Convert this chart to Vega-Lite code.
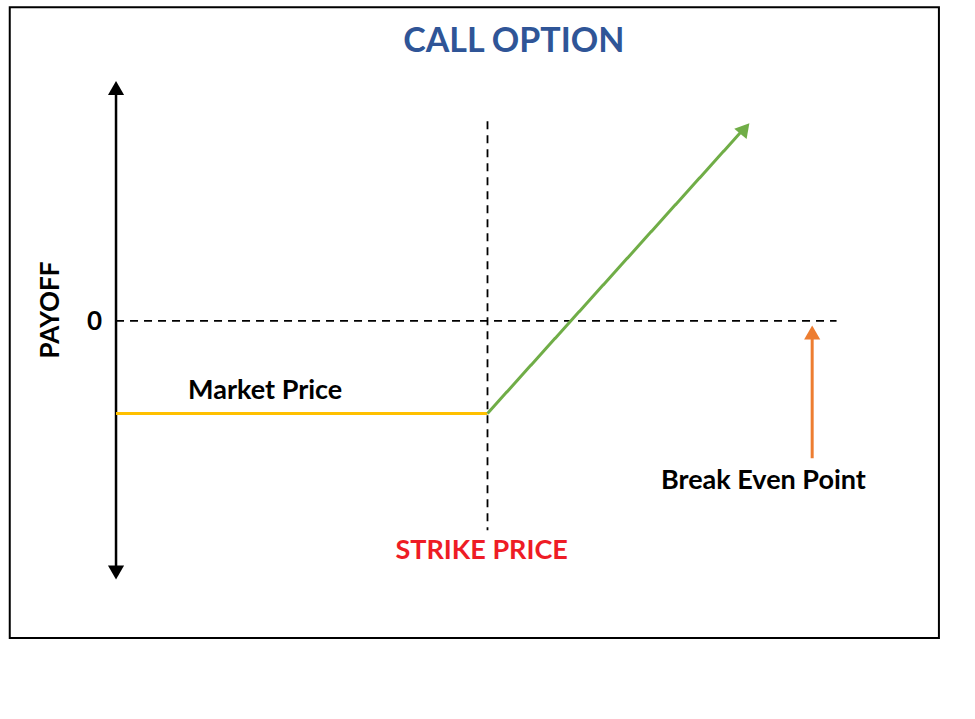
{
  "$schema": "https://vega.github.io/schema/vega-lite/v6.json",
  "width": 975,
  "height": 719,
  "autosize": {"type": "none"},
  "padding": 0,
  "background": "white",
  "view": {"stroke": null},
  "config": {"text": {"font": "Lato", "fontWeight": "bold"}},
  "datasets": {
    "border": [
      {"x": 10, "y": 8, "x2": 963, "y2": 710}
    ],
    "segments": [
      {"id": "payoff", "x": 119, "y": 98, "x2": 119, "y2": 637, "color": "black", "dash": "solid", "w": 2.5},
      {"id": "zero", "x": 119, "y": 357, "x2": 858, "y2": 357, "color": "black", "dash": "dashed", "w": 1.8},
      {"id": "strike", "x": 500, "y": 135, "x2": 500, "y2": 590, "color": "black", "dash": "dashed", "w": 1.8},
      {"id": "market", "x": 119, "y": 460, "x2": 500, "y2": 460, "color": "#FFC000", "dash": "solid", "w": 3},
      {"id": "call", "x": 500, "y": 460, "x2": 764, "y2": 142, "color": "#70AD47", "dash": "solid", "w": 3},
      {"id": "breakeven", "x": 833, "y": 510, "x2": 833, "y2": 372, "color": "#ED7D31", "dash": "solid", "w": 3}
    ],
    "heads": [
      {"x": 119, "y": 98, "angle": 0, "color": "black"},
      {"x": 119, "y": 637, "angle": 180, "color": "black"},
      {"x": 764, "y": 143, "angle": 40, "color": "#70AD47"},
      {"x": 833, "y": 370, "angle": 0, "color": "#ED7D31"}
    ],
    "labels": [
      {"text": "CALL OPTION", "x": 527, "y": 47, "color": "#2F5597", "size": 34, "angle": 0},
      {"text": "PAYOFF", "x": 52, "y": 345, "color": "black", "size": 26, "angle": 270},
      {"text": "0", "x": 97, "y": 358, "color": "black", "size": 26, "angle": 0},
      {"text": "Market Price", "x": 272, "y": 435, "color": "black", "size": 27, "angle": 0},
      {"text": "Break Even Point", "x": 783, "y": 535, "color": "black", "size": 27, "angle": 0},
      {"text": "STRIKE PRICE", "x": 494, "y": 613, "color": "#EE1C25", "size": 27, "angle": 0}
    ]
  },
  "layer": [
    {
      "data": {"name": "border"},
      "mark": {"type": "rect", "fill": null, "stroke": "black", "strokeWidth": 2},
      "encoding": {
        "x": {"field": "x", "type": "quantitative", "scale": {"domain": [0, 975]}, "axis": null},
        "y": {"field": "y", "type": "quantitative", "scale": {"domain": [0, 719], "reverse": true}, "axis": null},
        "x2": {"field": "x2"},
        "y2": {"field": "y2"}
      }
    },
    {
      "data": {"name": "segments"},
      "mark": {"type": "rule"},
      "encoding": {
        "x": {"field": "x", "type": "quantitative"},
        "y": {"field": "y", "type": "quantitative"},
        "x2": {"field": "x2"},
        "y2": {"field": "y2"},
        "color": {"field": "color", "type": "nominal", "scale": null},
        "strokeWidth": {"field": "w", "type": "quantitative", "scale": null},
        "strokeDash": {"field": "dash", "type": "nominal", "scale": {"domain": ["solid", "dashed"], "range": [[1, 0], [8, 6]]}, "legend": null}
      }
    },
    {
      "data": {"name": "heads"},
      "mark": {"type": "point", "shape": "triangle-up", "filled": true, "size": 260, "opacity": 1},
      "encoding": {
        "x": {"field": "x", "type": "quantitative"},
        "y": {"field": "y", "type": "quantitative"},
        "angle": {"field": "angle", "type": "quantitative", "scale": null},
        "color": {"field": "color", "type": "nominal", "scale": null}
      }
    },
    {
      "data": {"name": "labels"},
      "mark": {"type": "text", "align": "center", "baseline": "middle"},
      "encoding": {
        "x": {"field": "x", "type": "quantitative"},
        "y": {"field": "y", "type": "quantitative"},
        "text": {"field": "text"},
        "color": {"field": "color", "type": "nominal", "scale": null},
        "size": {"field": "size", "type": "quantitative", "scale": null},
        "angle": {"field": "angle", "type": "quantitative", "scale": null}
      }
    }
  ]
}
